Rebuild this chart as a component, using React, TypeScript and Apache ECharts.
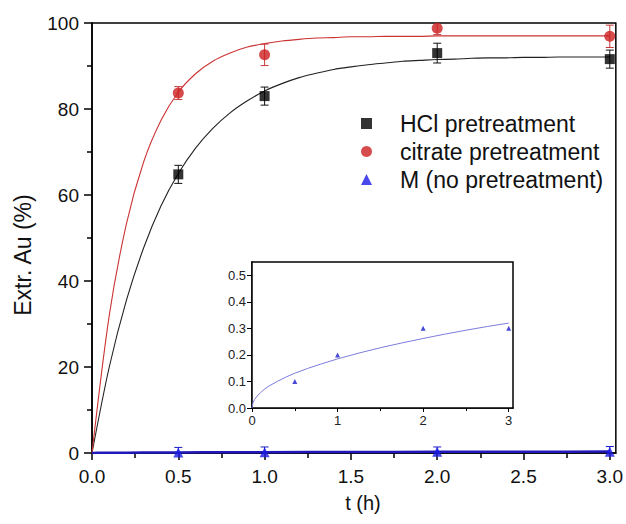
import React, { useEffect, useRef } from "react";
import * as echarts from "echarts";

// ---- data ----
const tPoints = [0.5, 1, 2, 3];
const hclValues = [64.8, 83.0, 93.0, 91.6];
const hclErrors = [2.1, 2.1, 2.3, 2.1];
const citrateValues = [83.7, 92.6, 98.8, 96.9];
const citrateErrors = [1.5, 2.5, 1.5, 2.6];
const mValues = [0.1, 0.2, 0.3, 0.3];
const mErrors = [1.2, 1.2, 1.1, 1.2];

// fitted curves (t = 0 … 3 h, every 0.1 h)
const fitT = [0, 0.1, 0.2, 0.3, 0.4, 0.5, 0.6, 0.7, 0.8, 0.9, 1.0, 1.1, 1.2, 1.3, 1.4, 1.5, 1.6, 1.7, 1.8, 1.9, 2.0, 2.1, 2.2, 2.3, 2.4, 2.5, 2.6, 2.7, 2.8, 2.9, 3.0];
const hclFit = [0, 20.0, 35.6, 47.8, 57.5, 65.0, 70.9, 75.5, 79.1, 81.9, 84.2, 85.9, 87.3, 88.3, 89.2, 89.8, 90.3, 90.7, 91.1, 91.3, 91.5, 91.6, 91.8, 91.9, 91.9, 92.0, 92.0, 92.1, 92.1, 92.1, 92.1];
const citrateFit = [0, 32.0, 53.4, 67.8, 77.4, 83.9, 88.2, 91.1, 93.0, 94.4, 95.2, 95.8, 96.2, 96.5, 96.6, 96.8, 96.8, 96.9, 96.9, 96.9, 97.0, 97.0, 97.0, 97.0, 97.0, 97.0, 97.0, 97.0, 97.0, 97.0, 97.0];
const mFitT = [0, 0.01, 0.03, 0.06, 0.1, 0.15, 0.2, 0.3, 0.4, 0.5, 0.65, 0.8, 1, 1.25, 1.5, 1.75, 2, 2.25, 2.5, 2.75, 3];
const mFit = [0, 0.0185, 0.032, 0.045, 0.058, 0.072, 0.083, 0.101, 0.117, 0.131, 0.149, 0.165, 0.185, 0.207, 0.227, 0.245, 0.262, 0.278, 0.293, 0.307, 0.32];

// tick values
const mainXTicks = [0, 0.5, 1, 1.5, 2, 2.5, 3];
const mainXMinor = [0.25, 0.75, 1.25, 1.75, 2.25, 2.75];
const insetXTicks = [0, 1, 2, 3];
const insetXMinor = [0.5, 1.5, 2.5];
const insetYTicks = [0, 0.1, 0.2, 0.3, 0.4, 0.5];
const insetYMinor = [0.05, 0.15, 0.25, 0.35, 0.45];

const names = ["HCl pretreatment", "citrate pretreatment", "M (no pretreatment)"];

const FONT = "'Liberation Sans', Arial, sans-serif";

function errSeries(name: string, values: number[], errors: number[], color: string, xi: number, yi: number) {
  return {
    type: "custom",
    name,
    xAxisIndex: xi,
    yAxisIndex: yi,
    clip: true,
    silent: true,
    z: 3,
    data: tPoints.map((t, i) => [t, values[i], errors[i]]),
    encode: { x: 0, y: 1 },
    renderItem: (params: any, api: any) => {
      const x = api.value(0);
      const y = api.value(1);
      const e = api.value(2);
      const top = api.coord([x, y + e]);
      const bot = api.coord([x, y - e]);
      const w = 4;
      const st = { stroke: color, lineWidth: 1 };
      return {
        type: "group",
        children: [
          { type: "line", shape: { x1: top[0], y1: top[1], x2: bot[0], y2: bot[1] }, style: st },
          { type: "line", shape: { x1: top[0] - w, y1: top[1], x2: top[0] + w, y2: top[1] }, style: st },
          { type: "line", shape: { x1: bot[0] - w, y1: bot[1], x2: bot[0] + w, y2: bot[1] }, style: st },
        ],
      };
    },
  };
}

export default function App() {
  const ref = useRef<HTMLDivElement>(null);
  useEffect(() => {
    if (!ref.current) return;
    const chart = echarts.init(ref.current, undefined, { renderer: "svg" });
    const axisLine = { show: true, onZero: false, lineStyle: { color: "#000", width: 1.5 } };
    const option: any = {
      animation: false,
      backgroundColor: "#fff",
      textStyle: { fontFamily: FONT },
      grid: [
        { left: 92, top: 23, right: 8, bottom: 71, show: true, borderColor: "#000", borderWidth: 1.5, backgroundColor: "transparent" },
        { left: 252, top: 262, right: 113, bottom: 116, show: true, borderColor: "#000", borderWidth: 1.5, backgroundColor: "#fff", z: 5 },
      ],
      legend: {
        data: names,
        orient: "vertical",
        left: 361,
        top: 112,
        padding: 0,
        itemGap: 5,
        itemWidth: 11,
        itemHeight: 11,
        textStyle: { fontSize: 23, color: "#111", fontFamily: FONT, padding: [0, 0, 0, 23] },
      },
      xAxis: [
        {
          gridIndex: 0, type: "value", min: 0, max: 3.035, position: "bottom",
          name: "t (h)", nameLocation: "middle", nameGap: 40,
          nameTextStyle: { fontSize: 20, color: "#111", fontFamily: FONT, padding: [0, 0, 0, 18] },
          axisLine,
          axisTick: { show: true, customValues: mainXTicks, length: 7, lineStyle: { color: "#000", width: 1.5 } },
          axisLabel: { customValues: mainXTicks, fontSize: 19, color: "#111", margin: 14, formatter: (v: number) => v.toFixed(1) },
          splitLine: { show: false },
        },
        {
          gridIndex: 0, type: "value", min: 0, max: 3.035, position: "bottom",
          axisLine: { show: false },
          axisTick: { show: true, customValues: mainXMinor, length: 5, lineStyle: { color: "#000", width: 1.5 } },
          axisLabel: { show: false },
          splitLine: { show: false },
        },
        {
          gridIndex: 1, type: "value", min: 0, max: 3.05, position: "bottom",
          axisLine: { show: true, onZero: false, lineStyle: { color: "#000", width: 1.5 } },
          axisTick: { show: true, customValues: insetXTicks, length: 4, lineStyle: { color: "#000", width: 1 } },
          axisLabel: { customValues: insetXTicks, fontSize: 13, color: "#222", margin: 6, formatter: (v: number) => String(v) },
          splitLine: { show: false },
        },
        {
          gridIndex: 1, type: "value", min: 0, max: 3.05, position: "bottom",
          axisLine: { show: false },
          axisTick: { show: true, customValues: insetXMinor, length: 3, lineStyle: { color: "#000", width: 1 } },
          axisLabel: { show: false },
          splitLine: { show: false },
        },
      ],
      yAxis: [
        {
          gridIndex: 0, type: "value", min: 0, max: 100, interval: 20,
          name: "Extr. Au (%)", nameLocation: "middle", nameGap: 58,
          nameTextStyle: { fontSize: 23, color: "#111", fontFamily: FONT, padding: [0, 34, 0, 0] },
          axisLine,
          axisTick: { show: true, length: 8, lineStyle: { color: "#000", width: 1.5 } },
          minorTick: { show: true, splitNumber: 2, length: 5, lineStyle: { color: "#000", width: 1.5 } },
          axisLabel: { fontSize: 19, color: "#111", margin: 13 },
          splitLine: { show: false },
        },
        {
          gridIndex: 1, type: "value", min: 0, max: 0.55,
          axisLine: { show: true, onZero: false, lineStyle: { color: "#000", width: 1.5 } },
          axisTick: { show: true, customValues: insetYTicks, length: 5, lineStyle: { color: "#000", width: 1 } },
          axisLabel: { customValues: insetYTicks, fontSize: 13, color: "#222", margin: 6, formatter: (v: number) => v.toFixed(1) },
          splitLine: { show: false },
        },
        {
          gridIndex: 1, type: "value", min: 0, max: 0.55,
          axisLine: { show: false },
          axisTick: { show: true, customValues: insetYMinor, length: 3, lineStyle: { color: "#000", width: 1 } },
          axisLabel: { show: false },
          splitLine: { show: false },
        },
      ],
      series: [
        {
          type: "line", name: "HCl fit", xAxisIndex: 0, yAxisIndex: 0, showSymbol: false, symbol: "none",
          smooth: 0.3, silent: true, z: 1,
          lineStyle: { color: "#222", width: 1.1 },
          data: fitT.map((t, i) => [t, hclFit[i]]),
        },
        {
          type: "line", name: "citrate fit", xAxisIndex: 0, yAxisIndex: 0, showSymbol: false, symbol: "none",
          smooth: 0.3, silent: true, z: 1,
          lineStyle: { color: "#cc3333", width: 1.1 },
          data: fitT.map((t, i) => [t, citrateFit[i]]),
        },
        {
          type: "line", name: "M fit", xAxisIndex: 0, yAxisIndex: 0, showSymbol: false, symbol: "none",
          silent: true, z: 2,
          lineStyle: { color: "#2018b8", width: 2.5 },
          data: mFitT.map((t, i) => [t, mFit[i]]),
        },
        errSeries("HCl err", hclValues, hclErrors, "#111", 0, 0),
        errSeries("citrate err", citrateValues, citrateErrors, "#c83a3a", 0, 0),
        errSeries("M err", mValues, mErrors, "#1a1acc", 0, 0),
        {
          type: "scatter", name: names[0], xAxisIndex: 0, yAxisIndex: 0, symbol: "rect", symbolSize: 10, z: 4,
          itemStyle: { color: "#000" },
          data: tPoints.map((t, i) => [t, hclValues[i]]),
        },
        {
          type: "scatter", name: names[1], xAxisIndex: 0, yAxisIndex: 0, symbol: "circle", symbolSize: 11, z: 4,
          itemStyle: { color: "#cc1f1f" },
          data: tPoints.map((t, i) => [t, citrateValues[i]]),
        },
        {
          type: "scatter", name: names[2], xAxisIndex: 0, yAxisIndex: 0, symbol: "triangle", symbolSize: 10, z: 4,
          itemStyle: { color: "#1a1ae6" },
          data: tPoints.map((t, i) => [t, mValues[i]]),
        },
        {
          type: "line", name: "M inset fit", xAxisIndex: 2, yAxisIndex: 1, showSymbol: false, symbol: "none",
          silent: true, z: 6,
          lineStyle: { color: "#7c7cdc", width: 1 },
          data: mFitT.map((t, i) => [t, mFit[i]]),
        },
        {
          type: "scatter", name: "M inset", xAxisIndex: 2, yAxisIndex: 1, symbol: "triangle", symbolSize: 5, z: 7,
          itemStyle: { color: "#1a1acc" },
          data: tPoints.map((t, i) => [t, mValues[i]]),
        },
      ],
    };
    chart.setOption(option);
    return () => chart.dispose();
  }, []);
  return <div ref={ref} style={{ position: "absolute", left: 0, top: 0, width: 626, height: 524 }} />;
}
